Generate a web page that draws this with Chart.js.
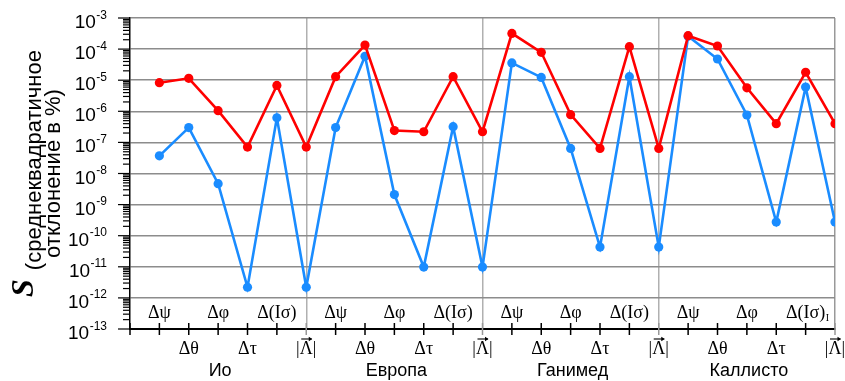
<!DOCTYPE html>
<html>
<head>
<meta charset="utf-8">
<script src="https://cdn.jsdelivr.net/npm/chart.js@4/dist/chart.umd.min.js"></script>
<style>
  html, body { margin: 0; padding: 0; background: #fff; }
  canvas { display: block; }
</style>
</head>
<body>
<canvas id="c" width="845" height="381"></canvas>
<script>
// Moons and the parameters evaluated for each of them
const moons = ['Ио', 'Европа', 'Ганимед', 'Каллисто'];
const params = ['Δψ', 'Δθ', 'Δφ', 'Δτ', 'Δ(Iσ)', '|Λ|'];

// RMS deviation S (in %), six parameters per moon, in moon order
const rmsRed = [
  8.3e-6, 1.15e-5, 1.05e-6, 7.1e-8, 6.8e-6, 7.1e-8,
  1.3e-5, 1.35e-4, 2.4e-7, 2.2e-7, 1.3e-5, 2.2e-7,
  3.2e-4, 7.9e-5, 7.8e-7, 6.4e-8, 1.2e-4, 6.4e-8,
  2.7e-4, 1.26e-4, 5.7e-6, 4.0e-7, 1.8e-5, 4.0e-7
];
const rmsBlue = [
  3.7e-8, 3.0e-7, 4.7e-9, 2.2e-12, 6.2e-7, 2.2e-12,
  3.0e-7, 5.9e-5, 2.1e-9, 9.8e-12, 3.2e-7, 9.8e-12,
  3.6e-5, 1.23e-5, 6.4e-8, 4.3e-11, 1.3e-5, 4.3e-11,
  2.6e-4, 4.8e-5, 7.6e-7, 2.75e-10, 6.0e-6, 2.75e-10
];

// Decade exponents of the log axis
const exponents = [-13, -12, -11, -10, -9, -8, -7, -6, -5, -4, -3];

const SERIF = '"Liberation Serif", "Times New Roman", serif';
const SANS = '"Liberation Sans", Arial, sans-serif';

const nPoints = moons.length * params.length;
const toPoints = arr => arr.map((v, i) => ({ x: i + 1, y: v }));

function seg(ctx, x1, y1, x2, y2) {
  ctx.beginPath(); ctx.moveTo(x1, y1); ctx.lineTo(x2, y2); ctx.stroke();
}

// Draws |Λ| with a vector arrow above the Λ, centred on cx
function drawLambda(ctx, cx, baseY) {
  ctx.font = '18px ' + SERIF;
  const wBar = ctx.measureText('|').width;
  const wL = ctx.measureText('Λ').width;
  const total = wBar * 2 + wL;
  let x0 = cx - total / 2;
  ctx.textAlign = 'left';
  ctx.fillText('|', x0, baseY);
  ctx.fillText('Λ', x0 + wBar, baseY);
  ctx.fillText('|', x0 + wBar + wL, baseY);
  const ay = baseY - 15;
  const ax1 = x0 + wBar + 1.5, ax2 = x0 + wBar + wL - 1;
  ctx.lineWidth = 1.1;
  seg(ctx, ax1, ay, ax2, ay);
  ctx.beginPath();
  ctx.moveTo(ax2 + 0.5, ay);
  ctx.lineTo(ax2 - 3, ay - 2.2);
  ctx.lineTo(ax2 - 3, ay + 2.2);
  ctx.closePath();
  ctx.fill();
}

const decorations = {
  id: 'decorations',
  afterDraw(chart) {
    const { ctx, chartArea: a, scales: { x, y } } = chart;
    ctx.save();
    ctx.fillStyle = '#000';
    ctx.strokeStyle = '#000';

    // y axis: major and minor tick marks, superscript labels
    ctx.lineWidth = 1.2;
    exponents.forEach(e => {
      const py = y.getPixelForValue(Math.pow(10, e));
      seg(ctx, a.left - 12, py, a.left, py);
      if (e < -3) {
        for (let m = 2; m <= 9; m++) {
          const pm = y.getPixelForValue(m * Math.pow(10, e));
          seg(ctx, a.left - 7, pm, a.left, pm);
        }
      }
      const right = 107;
      ctx.textAlign = 'right';
      ctx.textBaseline = 'alphabetic';
      ctx.font = '12px ' + SANS;
      const sup = String(e);
      const wSup = ctx.measureText(sup).width;
      ctx.fillText(sup, right, py + 0.5);
      ctx.font = '19px ' + SANS;
      ctx.fillText('10', right - wSup - 0.5, py + 10);
    });

    // x axis tick marks crossing the axis line
    for (let i = 0; i <= nPoints; i++) {
      const px = x.getPixelForValue(i);
      const grey = i > 0 && i % params.length === 0;
      ctx.strokeStyle = grey ? '#999' : '#000';
      ctx.lineWidth = 1.5;
      seg(ctx, px, a.bottom - 6, px, a.bottom + 6);
    }
    ctx.strokeStyle = '#000';

    // parameter labels: odd ones inside the plot, even ones below the axis
    ctx.fillStyle = '#000';
    ctx.textBaseline = 'alphabetic';
    for (let i = 0; i < nPoints; i++) {
      const p = i % params.length;
      const px = x.getPixelForValue(i + 1);
      const upper = p % 2 === 0;
      const baseY = upper ? 318 : 354;
      if (params[p] === '|Λ|') {
        drawLambda(ctx, px, baseY);
      } else {
        ctx.font = '18px ' + SERIF;
        ctx.textAlign = 'center';
        ctx.fillText(params[p], px, baseY);
        if (i === nPoints - 2) {
          const w = ctx.measureText(params[p]).width;
          ctx.font = '10px ' + SERIF;
          ctx.textAlign = 'left';
          ctx.fillText('I', px + w / 2 + 0.5, baseY + 3);
        }
      }
    }

    // moon names
    ctx.font = '18px ' + SANS;
    ctx.textAlign = 'center';
    moons.forEach((m, k) => {
      const px = x.getPixelForValue(k * params.length + 3);
      ctx.fillText(m, px + 2, 376);
    });

    // rotated y-axis title
    const cy = (a.top + a.bottom) / 2;
    ctx.translate(0, cy);
    ctx.rotate(-Math.PI / 2);
    const titleFont = '22px ' + SANS;
    const sFont = 'bold italic 32px ' + SERIF;
    const line1 = '(среднеквадратичное';
    ctx.font = sFont;
    const wS = ctx.measureText('S').width;
    ctx.font = titleFont;
    const w1 = ctx.measureText(line1).width;
    const gap = 9;
    const total = wS + gap + w1;
    const u0 = -total / 2;
    ctx.textAlign = 'left';
    ctx.font = sFont;
    ctx.fillText('S', u0, 33);
    ctx.font = titleFont;
    ctx.fillText(line1, u0 + wS + gap, 41);
    ctx.textAlign = 'center';
    ctx.fillText('отклонение в %)', 0, 60);

    ctx.restore();
  }
};

new Chart(document.getElementById('c'), {
  type: 'line',
  data: {
    datasets: [
      {
        data: toPoints(rmsRed),
        borderColor: '#ff0000',
        backgroundColor: '#ff0000',
        borderWidth: 2.6,
        pointRadius: 4.6,
        pointBorderWidth: 0,
        order: 0
      },
      {
        data: toPoints(rmsBlue),
        borderColor: '#1a8cff',
        backgroundColor: '#1a8cff',
        borderWidth: 2.6,
        pointRadius: 4.6,
        pointBorderWidth: 0,
        order: 1
      }
    ]
  },
  options: {
    responsive: false,
    animation: false,
    devicePixelRatio: 1,
    layout: { padding: { top: 18, right: 10, left: 0, bottom: 0 } },
    plugins: { legend: { display: false }, tooltip: { enabled: false } },
    scales: {
      x: {
        type: 'linear',
        min: 0,
        max: nPoints,
        afterBuildTicks: s => {
          s.ticks = Array.from({ length: nPoints + 1 }, (_, i) => ({ value: i }));
        },
        afterFit: s => { s.height = 52; },
        ticks: { display: false },
        grid: {
          drawTicks: false,
          lineWidth: 1.5,
          color: c => {
            const v = c.tick ? c.tick.value : 0;
            if (v === nPoints) return '#999';
            return (v > 0 && v % params.length === 0) ? '#b0b0b0' : 'rgba(0,0,0,0)';
          }
        },
        border: { display: true, color: '#000', width: 2 }
      },
      y: {
        type: 'logarithmic',
        min: 1e-13,
        max: 1e-3,
        afterBuildTicks: s => {
          s.ticks = exponents.map(e => ({ value: Math.pow(10, e) }));
        },
        afterFit: s => { s.width = 130; },
        ticks: { display: false },
        grid: { drawTicks: false, lineWidth: 1.4, color: '#8c8c8c' },
        border: { display: true, color: '#000', width: 1.5 }
      }
    }
  },
  plugins: [decorations]
});
</script>
</body>
</html>
